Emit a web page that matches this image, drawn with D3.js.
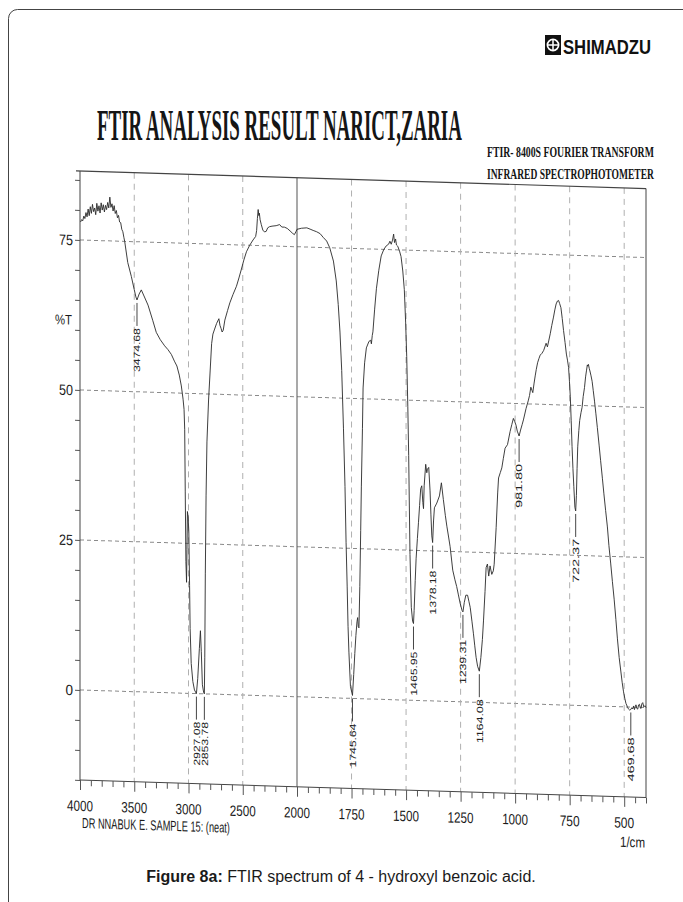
<!DOCTYPE html>
<html>
<head>
<meta charset="utf-8">
<script src="https://cdn.jsdelivr.net/npm/d3@7/dist/d3.min.js"></script>
<style>
  html, body { margin: 0; padding: 0; background: #fff; }
  svg { display: block; }
</style>
</head>
<body>
<svg id="fig" width="683" height="902"></svg>
<script>
// Wavenumber (1/cm) and %T pairs of the recorded spectrum
const wavenumbers = [
  3995,3985,3975,3965,3955,3945,3935,3925,3915,3905,3895,3885,3875,3865,3855,3845,3835,3825,3815,3805,
  3795,3785,3775,3765,3755,3745,3735,3725,3715,3705,3695,3685,3675,3665,3655,3645,3635,3625,3615,3605,
  3595,3588,3560,3527,3500,3485,3474.68,3455,3435,3410,3373,3330,3297,3260,3220,3190,3158,3130,3107,3085,
  3066,3050,3041,3035,3030,3024,3018,3014,3010,3004,2997,2990,2985,2975,2960,2945,2927.08,2915,2900,2890,
  2882,2872,2860,2853.78,2850,2845,2838,2830,2815,2800,2787,2775,2762,2741,2720,2710,2700,2690,2680,2665,
  2640,2619,2590,2558,2535,2512,2490,2466,2436,2405,2381,2372,2365,2358,2352,2347,2340,2329,2315,2300,
  2284,2270,2253,2230,2192,2160,2140,2116,2090,2064,2040,2024,2010,2000,1980,1955,1940,1926,1910,1894,
  1880,1864,1850,1833,1820,1811,1803,1795,1787,1780,1775,1770,1766,1762,1755,1745.64,1740,1735,1730,1725,
  1722,1719,1716,1712,1708,1705,1700,1697,1690,1682,1670,1662,1659,1655,1652,1644,1636,1625,1614,1602,
  1591,1580,1574,1568,1562,1557,1553,1548,1544,1538,1530,1523,1515,1508,1502,1497,1492,1488,1482,1476,
  1470,1465.95,1463,1458,1454,1448,1443,1438,1433,1428,1423,1420,1417,1410,1405,1402,1396,1390,1386,1382,
  1378.18,1374,1370,1359,1347,1338,1329,1320,1313,1305,1298,1286,1276,1268,1260,1252,1243,1239.31,1233,1226,
  1218,1212,1206,1198,1191,1185,1179,1172,1164.08,1157,1150,1145,1138,1133,1127,1121,1115,1107,1100,1096,
  1087,1080,1076,1068,1061,1054,1046,1035,1023,1015,1008,1002,996,990,981.8,975,968,962,950,940,
  934,928,923,919,913,908,903,897,891,885,877,869,858,852,846,839,832,824,818,812,
  806,801,796,790,784,778,771,765,760,755,751,747,743,739,735,731,726,722.37,719,716,
  713,708,704,698,693,688,682,677,673,669,667,664,660,657,652,647,642,636,630,623,
  615,608,600,593,585,577,570,562,554,546,538,531,523,515,509,503,497,492,486,481,
  475,469.68,465,461,457,453,449,446,442,438,434,430,426,423,419,415,410,405,400
];
const transmittance = [
  78.0,78.4,78.2,79.0,78.6,79.6,78.9,80.2,79.1,80.6,79.5,81.0,79.8,80.4,79.3,81.2,79.9,80.8,79.6,81.3,
  80.1,81.0,79.8,80.9,80.2,81.4,80.5,82.3,80.6,81.2,80.0,80.9,79.6,80.1,78.9,79.3,78.2,78.1,77.0,76.6,
  75.6,75.0,71.5,69.2,67.0,65.8,65.3,66.3,67.0,66.0,64.5,62.0,60.0,58.8,57.8,57.2,56.4,55.3,54.5,53.0,
  51.2,49.0,47.3,44.0,33.7,22.0,18.5,24.0,30.3,29.5,27.0,18.0,10.8,5.0,2.0,0.6,0.0,2.5,7.5,10.5,
  7.0,1.5,0.2,0.0,6.0,20.0,33.0,42.0,49.0,54.0,58.4,60.0,60.7,61.8,62.6,61.5,61.0,60.4,60.7,62.4,
  64.0,65.3,66.7,68.1,69.5,71.0,72.5,73.9,75.0,75.9,76.5,77.5,79.5,81.0,80.0,80.4,79.3,78.5,77.6,77.3,
  77.4,78.0,78.2,78.3,78.4,78.6,78.2,78.2,78.0,77.6,77.2,77.0,77.5,77.9,78.1,78.2,78.0,77.8,77.6,77.3,
  76.7,76.1,75.0,72.8,69.5,65.6,61.0,54.6,45.0,35.3,26.0,18.7,12.0,7.7,2.0,0.5,4.0,7.5,10.5,12.8,
  13.5,12.0,11.8,18.7,28.0,35.3,45.0,51.8,56.0,58.5,59.6,59.8,59.2,60.6,61.2,65.0,68.4,71.5,73.9,75.0,
  75.6,75.9,76.4,75.9,76.6,77.6,76.2,76.8,75.8,75.6,74.8,73.9,71.5,68.4,63.0,57.3,49.0,40.8,24.3,15.5,
  13.2,12.8,15.0,20.0,23.6,27.0,29.7,32.5,35.3,35.8,33.0,32.0,35.8,39.4,38.0,38.6,38.9,35.0,31.0,27.5,
  26.4,30.0,32.2,33.0,34.2,36.4,33.6,31.0,29.2,27.4,25.8,21.9,20.3,19.2,17.8,16.4,15.2,15.0,16.6,17.8,
  17.8,16.8,15.8,13.5,11.4,9.4,7.5,6.0,5.2,7.5,10.5,13.6,18.5,22.5,23.1,21.1,22.8,21.4,22.0,23.1,
  29.2,35.0,37.5,38.4,39.2,40.8,42.5,43.1,45.3,46.5,47.5,47.0,46.4,45.4,44.6,45.6,46.5,47.3,49.2,50.5,
  51.4,52.8,52.3,51.9,53.5,54.7,55.8,56.9,57.6,58.2,58.5,59.0,60.2,59.6,60.6,61.8,63.2,64.6,65.8,66.8,
  67.3,67.4,66.9,66.2,64.4,62.4,60.4,58.5,57.5,56.3,54.0,51.4,47.5,43.1,39.5,36.5,33.0,32.4,35.0,39.5,
  43.1,45.8,47.5,48.8,49.7,51.5,53.0,54.8,55.8,56.8,56.6,56.9,56.2,55.8,55.0,54.1,52.6,50.8,48.8,46.4,
  43.5,40.9,38.0,35.4,32.6,29.9,26.8,23.9,20.8,17.9,14.5,11.3,8.2,5.8,4.0,2.5,1.4,0.6,0.1,-0.3,
  -0.5,-0.4,-0.1,-0.3,0.2,-0.4,0.1,0.4,-0.2,-0.3,0.4,0.5,-0.1,-0.2,0.6,0.8,0.1,0.3,0.0
];

// Peak positions annotated on the trace
const peakLabels = [3474.68, 2927.08, 2853.78, 1745.64, 1465.95, 1378.18, 1239.31, 1164.08, 981.80, 722.37, 469.68];

// Axis ticks
const xMajorTicks = [4000, 3500, 3000, 2500, 2000, 1750, 1500, 1250, 1000, 750, 500];
const xGridDashed = [3500, 3000, 2500, 1750, 1500, 1250, 1000, 750, 500];
const xGridSolid = [2000];
const yLabelTicks = [0, 25, 50, 75];

const svg = d3.select("#fig");
const sansFont = "Liberation Sans, Arial, sans-serif";
const serifFont = "Liberation Serif, Times New Roman, serif";

// Squeeze a text horizontally so that it spans the given width.
// anchor: 0 = start, 0.5 = middle, 1 = end
function fitText(parent, str, px, py, width, anchor, attrs) {
  const g = parent.append("g");
  const t = g.append("text").attr("x", 0).attr("y", 0).text(str);
  Object.entries(attrs).forEach(([k2, v]) => t.attr(k2, v));
  const w = t.node().getComputedTextLength();
  const s = width / w;
  g.attr("transform", `translate(${px - anchor * width},${py}) scale(${s},1)`);
  return t;
}

// Page frame
svg.append("rect")
  .attr("x", 8.5).attr("y", 9.5).attr("width", 700).attr("height", 920)
  .attr("rx", 9).attr("fill", "none").attr("stroke", "#444").attr("stroke-width", 1);

// Instrument logo
const logo = svg.append("g").attr("transform", "translate(545,35)");
logo.append("rect").attr("width", 16).attr("height", 20).attr("fill", "#111");
logo.append("circle").attr("cx", 8).attr("cy", 10).attr("r", 5.6)
  .attr("fill", "none").attr("stroke", "#fff").attr("stroke-width", 1.7);
logo.append("path").attr("d", "M8,4.4V15.6M2.4,10H13.6")
  .attr("stroke", "#fff").attr("stroke-width", 1.5);
fitText(svg, "SHIMADZU", 563, 54, 88, 0, {
  "font-family": sansFont, "font-weight": "bold", "font-size": 20, "fill": "#111"
});

// Headings
fitText(svg, "FTIR ANALYSIS RESULT NARICT,ZARIA", 97, 140, 365, 0, {
  "font-family": serifFont, "font-weight": "bold", "font-size": 44, "fill": "#151515"
});
fitText(svg, "FTIR- 8400S FOURIER TRANSFORM", 487, 157, 167, 0, {
  "font-family": serifFont, "font-weight": "bold", "font-size": 14.5, "fill": "#151515"
});
fitText(svg, "INFRARED SPECTROPHOTOMETER", 487, 179, 167, 0, {
  "font-family": serifFont, "font-weight": "bold", "font-size": 14.5, "fill": "#151515"
});

// Scales: the region below 2000 1/cm is drawn at twice the spread
const x = d3.scaleLinear().domain([4000, 2000, 400]).range([80, 297, 646]);
const y = d3.scaleLinear().domain([-15, 86.5]).range([780, 171]);

// The printed sheet drifts downward toward the right
const k = 0.031;
const plot = svg.append("g").attr("transform", `matrix(1,${k},0,1,0,${-80 * k})`);

// Horizontal grid
plot.append("g").selectAll("line").data(yLabelTicks).join("line")
  .attr("x1", x(4000)).attr("x2", x(400))
  .attr("y1", d => y(d)).attr("y2", d => y(d))
  .attr("stroke", "#8a8a8a").attr("stroke-width", 1).attr("stroke-dasharray", "4,3");

// Vertical grid
plot.append("g").selectAll("line").data(xGridDashed).join("line")
  .attr("x1", d => x(d)).attr("x2", d => x(d))
  .attr("y1", y(86.5)).attr("y2", y(-15))
  .attr("stroke", "#b0b0b0").attr("stroke-width", 1).attr("stroke-dasharray", "6,5");
plot.append("g").selectAll("line").data(xGridSolid).join("line")
  .attr("x1", d => x(d)).attr("x2", d => x(d))
  .attr("y1", y(86.5)).attr("y2", y(-15))
  .attr("stroke", "#555").attr("stroke-width", 1);

// Plot box: top and right edges
plot.append("line").attr("x1", 76).attr("x2", x(400)).attr("y1", y(86.5)).attr("y2", y(86.5))
  .attr("stroke", "#444").attr("stroke-width", 1.2);
plot.append("line").attr("x1", x(400)).attr("x2", x(400)).attr("y1", y(86.5)).attr("y2", y(-15))
  .attr("stroke", "#444").attr("stroke-width", 1);

// Left axis
const yAxis = d3.axisLeft(y).tickValues(d3.range(-15, 86, 5)).tickSize(5).tickFormat("");
const gy = plot.append("g").attr("transform", `translate(${x(4000)},0)`).call(yAxis);
gy.select(".domain").attr("stroke", "#444").attr("d", `M-0,${y(86.5)}V${y(-15)}`);
gy.selectAll(".tick line").attr("stroke", "#444");
yLabelTicks.forEach(v => {
  fitText(plot, String(v), 73, y(v) + 5.5, v === 0 ? 7.5 : 14, 1, {
    "font-family": sansFont, "font-size": 15, "fill": "#1a1a1a"
  });
});
fitText(plot, "%T", 72, 325, 17, 1, {
  "font-family": sansFont, "font-size": 14, "fill": "#1a1a1a"
});

// Bottom axis: minor ticks every 100 above 2000, every 50 below
const minorTicks = d3.range(4000, 2000, -100).concat(d3.range(2000, 399, -50))
  .filter(v => !xMajorTicks.includes(v));
const xAxisMinor = d3.axisBottom(x).tickValues(minorTicks).tickSize(6).tickFormat("");
const xAxisMajor = d3.axisBottom(x).tickValues(xMajorTicks).tickSize(10).tickFormat("");
const gxMinor = plot.append("g").attr("transform", `translate(0,${y(-15)})`).call(xAxisMinor);
const gxMajor = plot.append("g").attr("transform", `translate(0,${y(-15)})`).call(xAxisMajor);
gxMinor.select(".domain").attr("stroke", "#444").attr("d", `M${x(4000)},0H${x(400)}`);
gxMajor.select(".domain").remove();
plot.selectAll(".tick line").attr("stroke", "#555");
xMajorTicks.forEach(v => {
  fitText(plot, String(v), x(v), y(-15) + 31, v >= 1000 ? 26 : 20, 0.5, {
    "font-family": sansFont, "font-size": 15, "fill": "#1a1a1a"
  });
});

fitText(plot, "DR NNABUK E. SAMPLE 15: (neat)", 82, y(-15) + 48, 148, 0, {
  "font-family": sansFont, "font-size": 14.5, "fill": "#1a1a1a"
});
fitText(plot, "1/cm", 645, y(-15) + 50, 25, 1, {
  "font-family": sansFont, "font-size": 14.5, "fill": "#1a1a1a"
});

// Spectrum trace
const spectrum = wavenumbers.map((w, i) => ({ w, t: transmittance[i] }));
plot.append("path").datum(spectrum)
  .attr("fill", "none").attr("stroke", "#2b2b2b").attr("stroke-width", 0.9)
  .attr("stroke-linejoin", "round")
  .attr("d", d3.line().x(d => x(d.w)).y(d => y(d.t)));

// Peak markers: a leader below each minimum and the wavenumber read upward
const peaks = peakLabels.map(w => {
  const p = spectrum.find(s => Math.abs(s.w - w) < 0.01);
  return { w, t: p.t };
});
const pk = plot.append("g").selectAll("g").data(peaks).join("g")
  .attr("transform", d => `translate(${x(d.w)},${y(d.t)})`);
pk.append("line").attr("x1", 0).attr("x2", 0).attr("y1", 3).attr("y2", 26)
  .attr("stroke", "#333").attr("stroke-width", 0.9);
pk.each(function (d) {
  const holder = d3.select(this).append("g").attr("transform", "translate(0,28) rotate(-90)");
  fitText(holder, d.w.toFixed(2), 0, 3.2, 44, 1, {
    "font-family": sansFont, "font-size": 9, "fill": "#222"
  });
});

// Caption
const cap = svg.append("text").attr("x", 341).attr("y", 882).attr("text-anchor", "middle")
  .attr("font-family", sansFont).attr("font-size", 16).attr("fill", "#1a1a1a");
cap.append("tspan").attr("font-weight", "bold").text("Figure 8a:");
cap.append("tspan").text(" FTIR spectrum of 4 - hydroxyl benzoic acid.");
</script>
</body>
</html>
